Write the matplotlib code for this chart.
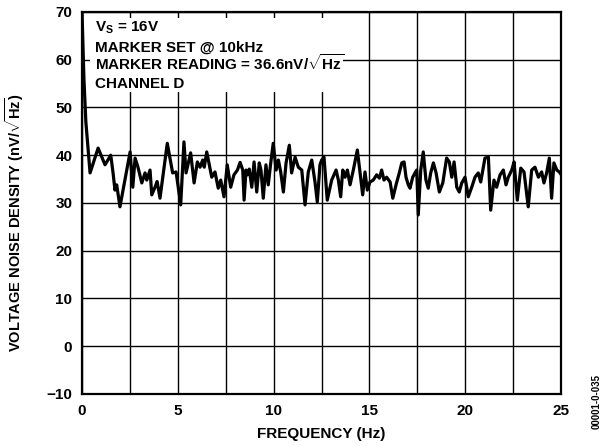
import matplotlib.pyplot as plt
from matplotlib.patches import Rectangle

plt.rcParams['font.family'] = ['Liberation Sans', 'DejaVu Sans']
plt.rcParams['font.weight'] = 'bold'
plt.rcParams['mathtext.fontset'] = 'custom'
plt.rcParams['mathtext.rm'] = 'Liberation Sans:bold'
plt.rcParams['mathtext.bf'] = 'Liberation Sans:bold'
plt.rcParams['mathtext.it'] = 'Liberation Sans:bold:italic'

# frequency (Hz) / noise density (nV/rtHz)
freq_hz = [0.0, 0.1, 0.2, 0.42, 0.84, 1.20, 1.50, 1.62, 1.72, 1.81, 1.98, 2.51, 2.65, 2.77,
           2.92, 3.12, 3.29, 3.38, 3.55, 3.64, 3.81, 3.92, 4.07, 4.45, 4.73, 4.91, 5.15, 5.32,
           5.43, 5.67, 5.85, 6.02, 6.16, 6.30, 6.38, 6.51, 6.77, 6.94, 7.11, 7.24, 7.41, 7.58,
           7.76, 7.93, 8.11, 8.25, 8.39, 8.46, 8.56, 8.63, 8.73, 8.86, 8.98, 9.12, 9.25, 9.34,
           9.46, 9.60, 9.72, 9.85, 9.98, 10.13, 10.25, 10.37, 10.51, 10.65, 10.82, 10.94, 11.12,
           11.29, 11.47, 11.64, 11.81, 11.99, 12.16, 12.28, 12.42, 12.51, 12.63, 12.80, 13.03,
           13.26, 13.38, 13.50, 13.61, 13.73, 13.85, 13.99, 14.16, 14.37, 14.51, 14.65, 14.77,
           14.89, 15.03, 15.20, 15.38, 15.52, 15.64, 15.76, 15.90, 16.08, 16.22, 16.39, 16.56,
           16.69, 16.81, 16.91, 17.03, 17.12, 17.26, 17.38, 17.47, 17.55, 17.68, 17.81, 17.95,
           18.07, 18.20, 18.34, 18.48, 18.65, 18.83, 19.03, 19.17, 19.30, 19.42, 19.56, 19.69,
           19.82, 19.99, 20.16, 20.34, 20.51, 20.68, 20.81, 21.03, 21.21, 21.33, 21.50, 21.64,
           21.82, 21.99, 22.13, 22.25, 22.43, 22.55, 22.72, 22.90, 23.07, 23.29, 23.47, 23.64,
           23.82, 23.99, 24.11, 24.25, 24.39, 24.51, 24.63, 24.78, 24.91, 25.0]
noise = [70.0, 56.0, 47.0, 36.3, 41.5, 38.0, 40.0, 36.3, 32.7, 33.8, 29.2, 40.7, 33.3, 39.4,
         37.5, 34.2, 36.3, 34.8, 36.9, 31.7, 33.3, 34.5, 31.0, 42.5, 36.3, 36.5, 29.6, 42.8,
         36.3, 40.5, 34.2, 38.6, 37.5, 39.0, 37.5, 40.7, 35.4, 36.5, 33.1, 34.8, 31.3, 38.0,
         33.3, 35.9, 36.9, 38.5, 36.9, 30.6, 36.9, 35.9, 37.1, 33.3, 38.6, 32.3, 38.4, 36.9,
         31.0, 38.0, 33.8, 38.4, 42.5, 36.9, 39.0, 36.5, 32.3, 38.4, 42.1, 36.3, 39.6,
         37.5, 36.9, 29.6, 36.5, 39.0, 34.4, 30.2, 38.0, 39.0, 39.6, 30.6, 34.8,
         36.9, 34.8, 31.3, 36.9, 35.4, 36.9, 33.8, 36.9, 41.1, 36.3, 31.7, 36.5,
         32.7, 34.4, 34.8, 35.9, 35.2, 36.9, 34.8, 35.4, 34.4, 31.0, 33.8, 36.3,
         38.4, 38.6, 35.4, 33.8, 33.1, 35.4, 36.3, 36.9, 27.5, 36.9, 40.7, 34.8,
         33.1, 36.3, 38.4, 36.3, 32.3, 34.2, 39.4, 38.6, 35.4, 38.6, 33.3, 32.3,
         34.2, 35.4, 31.3, 33.3, 35.4, 36.3, 34.4, 39.4, 39.6, 28.5, 34.8, 33.3,
         35.9, 36.9, 33.8, 35.4, 36.9, 38.6, 30.6, 37.3, 36.5, 29.2, 36.9, 37.5,
         35.4, 36.5, 34.2, 36.3, 39.4, 31.0, 38.4, 36.9, 36.5, 36.0]

notes = ['V$_\\mathregular{S}$ = 16V',
         'MARKER SET @ 10kHz',
         'MARKER READING = 36.6nV/$\\sqrt{\\mathrm{Hz}}$',
         'CHANNEL D']

fig = plt.figure(figsize=(6.08, 4.46), dpi=100)
ax = fig.add_axes([0.1349, 0.1166, 0.7878, 0.8565])

ax.plot(freq_hz, noise, color='black', linewidth=2.3, zorder=3, clip_on=True)

ax.set_xlim(0, 25)
ax.set_ylim(-10, 70)
ax.set_xticks([0, 5, 10, 15, 20, 25])
ax.set_xticks([2.5 * i for i in range(11)], minor=True)
ax.set_yticks(range(-10, 71, 10))
ax.set_axisbelow(True)
ax.grid(True, which='both', color='black', linewidth=1.0)
ax.tick_params(which='both', length=0, labelsize=11, pad=7)
for s in ax.spines.values():
    s.set_linewidth(1.6)

# white box behind the notes
ax.add_patch(Rectangle((0.0167, 0.791), 0.528, 0.193, transform=ax.transAxes,
                       facecolor='white', edgecolor='none', zorder=1))
for yy, t in zip([0.9476, 0.8953, 0.8482, 0.801], notes):
    ax.text(0.027, yy, t, transform=ax.transAxes, fontsize=11, fontweight='bold',
            va='baseline', ha='left', zorder=4)

ax.set_xlabel('FREQUENCY (Hz)', fontsize=11, fontweight='bold', labelpad=7)
ax.set_ylabel('VOLTAGE NOISE DENSITY (nV/$\\sqrt{\\mathrm{Hz}}$)', fontsize=10.5, fontweight='bold')
ax.yaxis.set_label_coords(-0.117, 0.45)

fig.text(0.982, 0.099, '00001-0-035', rotation=90, fontsize=7, fontweight='bold',
         ha='center', va='center')

plt.savefig('out.png', dpi=100)
